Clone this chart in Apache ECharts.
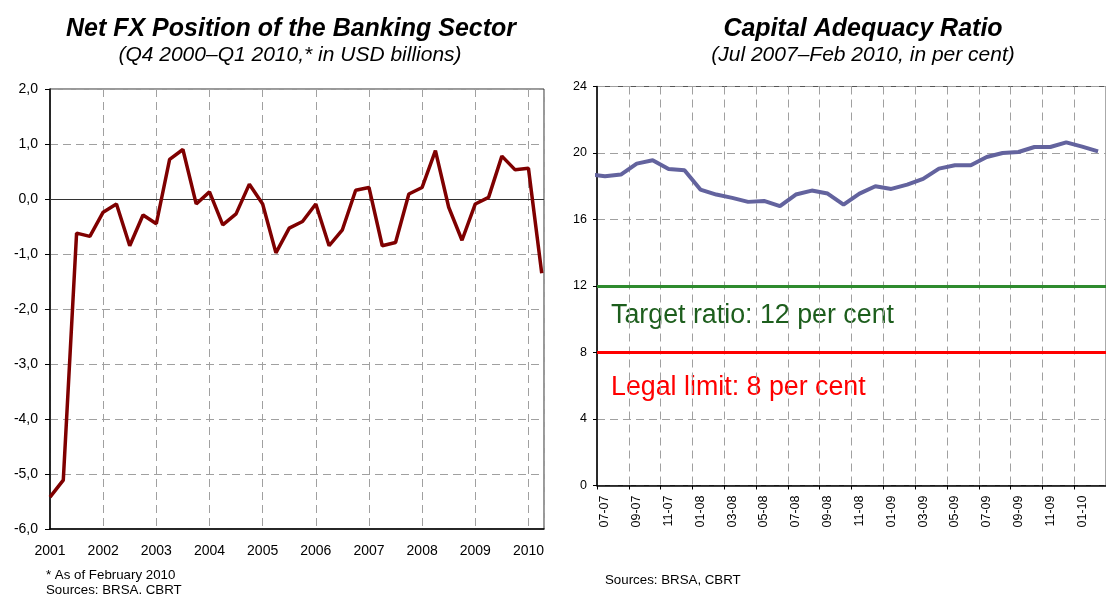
<!DOCTYPE html>
<html><head><meta charset="utf-8">
<script src="https://cdn.jsdelivr.net/npm/echarts@6/dist/echarts.min.js"></script>
<style>html,body{margin:0;padding:0;background:#fff}#c{width:1106px;height:596px}</style>
</head><body><div id="c"></div>
<script>
// ---- Left chart: Net FX position (USD bn), quarterly Q4 2000 – Q1 2010
const fxQuarters = ['Q4-00','Q1-01','Q2-01','Q3-01','Q4-01','Q1-02','Q2-02','Q3-02','Q4-02','Q1-03','Q2-03','Q3-03','Q4-03',
  'Q1-04','Q2-04','Q3-04','Q4-04','Q1-05','Q2-05','Q3-05','Q4-05','Q1-06','Q2-06','Q3-06','Q4-06','Q1-07','Q2-07','Q3-07','Q4-07',
  'Q1-08','Q2-08','Q3-08','Q4-08','Q1-09','Q2-09','Q3-09','Q4-09','Q1-10'];
const fxValues = [-5.42,-5.11,-0.62,-0.68,-0.24,-0.09,-0.85,-0.29,-0.45,0.72,0.90,-0.09,0.13,
  -0.47,-0.27,0.27,-0.09,-0.98,-0.53,-0.41,-0.09,-0.85,-0.56,0.16,0.21,-0.85,-0.79,0.09,0.21,
  0.88,-0.15,-0.75,-0.09,0.03,0.78,0.53,0.56,-1.35];
const fxYearLabels = ['2001','2002','2003','2004','2005','2006','2007','2008','2009','2010'];

// ---- Right chart: Capital adequacy ratio (%), monthly
const carMonths = ['06-07','07-07','08-07','09-07','10-07','11-07','12-07','01-08','02-08','03-08','04-08','05-08',
  '06-08','07-08','08-08','09-08','10-08','11-08','12-08','01-09','02-09','03-09','04-09','05-09','06-09','07-09',
  '08-09','09-09','10-09','11-09','12-09','01-10','02-10'];
const carValues = [18.72,18.6,18.7,19.36,19.56,19.04,18.96,17.8,17.5,17.3,17.06,17.12,
  16.8,17.5,17.74,17.56,16.9,17.56,18.0,17.84,18.1,18.44,19.06,19.26,19.26,19.76,
  20.0,20.06,20.36,20.36,20.64,20.38,20.1];
const carTarget = 12, carLegal = 8;

const FF = '"Liberation Sans", Arial, sans-serif';
const dash = {color:'#a0a0a0', type:[8,5], width:1};

function txt(x, y, text, font, fill, align) {
  return {type:'text', x:x, y:y, silent:true, style:{text:text, font:font + ' ' + FF, fill:fill||'#000',
    align:align||'center', textAlign:align||'center', verticalAlign:'middle', textVerticalAlign:'middle'}};
}

const chart = echarts.init(document.getElementById('c'), null, {renderer:'canvas'});
chart.setOption({
  animation:false,
  backgroundColor:'#fff',
  grid:[
    {left:50, top:89, width:494, height:440, show:true, borderColor:'#333', borderWidth:1, backgroundColor:'#fff'},
    {left:597, top:86.5, right:-8, height:399, show:true, borderColor:'#555', borderWidth:1, backgroundColor:'#fff'}
  ],
  xAxis:[
    {gridIndex:0, type:'value', min:0, max:37.17, interval:4,
     axisLine:{onZero:false, lineStyle:{color:'#000', width:1.5}}, axisTick:{show:false},
     axisLabel:{fontFamily:FF, fontSize:14, color:'#000', margin:15,
       formatter:function(v){ const k=v/4; return (Number.isInteger(k) && k<fxYearLabels.length) ? fxYearLabels[k] : ''; }},
     splitLine:{show:true, lineStyle:dash}},
    {gridIndex:1, type:'category', data:carMonths.slice(1), boundaryGap:true,
     axisLine:{onZero:false, lineStyle:{color:'#000', width:1.5}},
     axisTick:{show:true, interval:1, length:4, lineStyle:{color:'#000'}},
     axisLabel:{interval:1, rotate:90, fontFamily:FF, fontSize:12.5, color:'#000', margin:10},
     splitLine:{show:true, interval:1, lineStyle:dash}},
    {gridIndex:1, type:'value', min:-0.5, max:31.5, show:false}
  ],
  yAxis:[
    {gridIndex:0, type:'value', min:-6, max:2, interval:1,
     axisLine:{show:true, onZero:false, lineStyle:{color:'#000', width:1.5}},
     axisTick:{show:true, length:5, lineStyle:{color:'#000'}},
     axisLabel:{fontFamily:FF, fontSize:14, color:'#000', margin:12,
       formatter:function(v){ return v.toFixed(1).replace('.', ','); }},
     splitLine:{show:true, lineStyle:dash}},
    {gridIndex:1, type:'value', min:0, max:24, interval:4,
     axisLine:{show:true, onZero:false, lineStyle:{color:'#000', width:1.5}},
     axisTick:{show:true, length:4, lineStyle:{color:'#000'}},
     axisLabel:{fontFamily:FF, fontSize:12.5, color:'#000', margin:10},
     splitLine:{show:true, lineStyle:dash}}
  ],
  series:[
    {type:'line', name:'Net FX position', xAxisIndex:0, yAxisIndex:0,
     data:fxValues.map(function(v,i){return [i,v];}),
     showSymbol:false, symbol:'none', lineStyle:{color:'#7f0000', width:3.5}, itemStyle:{color:'#7f0000'},
     markLine:{silent:true, z:1, symbol:'none', label:{show:false}, animation:false,
       lineStyle:{color:'#333', type:'solid', width:1}, data:[{yAxis:0}]}},
    {type:'line', name:'CAR', xAxisIndex:2, yAxisIndex:1, clip:true,
     data:carValues.map(function(v,i){return [i-1,v];}),
     showSymbol:false, symbol:'none', lineStyle:{color:'#63639e', width:4}, itemStyle:{color:'#63639e'},
     markLine:{silent:true, symbol:'none', label:{show:false}, animation:false,
       data:[{yAxis:carTarget, lineStyle:{color:'#2e8b2e', width:3, type:'solid'}},
             {yAxis:carLegal, lineStyle:{color:'#ff0000', width:3, type:'solid'}}]}}
  ],
  graphic:[
    txt(291, 29, 'Net FX Position of the Banking Sector', 'italic bold 25px'),
    txt(290, 55, '(Q4 2000\u2013Q1 2010,* in USD billions)', 'italic 21px'),
    txt(863, 29, 'Capital Adequacy Ratio', 'italic bold 25px'),
    txt(863, 55, '(Jul 2007\u2013Feb 2010, in per cent)', 'italic 21px'),
    txt(611, 316, 'Target ratio: 12 per cent', '26.8px', '#1d5e1d', 'left'),
    txt(611, 388, 'Legal limit: 8 per cent', '26.8px', '#ff0000', 'left'),
    txt(46, 575, '* As of February 2010', '13.3px', '#000', 'left'),
    txt(46, 590, 'Sources: BRSA. CBRT', '13.3px', '#000', 'left'),
    txt(605, 580, 'Sources: BRSA, CBRT', '13.3px', '#000', 'left')
  ]
});
</script></body></html>
